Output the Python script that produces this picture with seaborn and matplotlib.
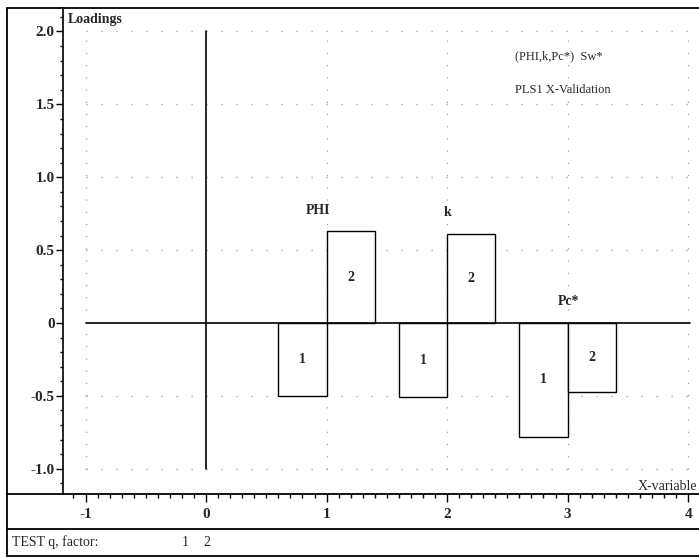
import matplotlib
matplotlib.use("Agg")
import matplotlib.pyplot as plt
from matplotlib.lines import Line2D
from matplotlib.ticker import MultipleLocator
import numpy as np
import pandas as pd
import seaborn as sns

# PLS1 loadings of the X-variables on the first two factors
variables = ["PHI", "k", "Pc*"]
var_pos = [1, 2, 3]
factor1 = [-0.50, -0.51, -0.78]
factor2 = [0.63, 0.61, -0.47]
factor_names = ["1", "2"]

x_ticks = [-1, 0, 1, 2, 3, 4]
x_ticklabels = ["-1", "0", "1", "2", "3", "4"]
y_ticks = [-1.0, -0.5, 0.0, 0.5, 1.0, 1.5, 2.0]
y_ticklabels = ["-1.0", "-0.5", "0", "0.5", "1.0", "1.5", "2.0"]

df = pd.DataFrame({
    "pos": var_pos * 2,
    "loading": factor1 + factor2,
    "factor": [factor_names[0]] * len(var_pos) + [factor_names[1]] * len(var_pos),
})

sns.set_theme(style="white")
plt.rcParams["font.family"] = ["Liberation Serif", "DejaVu Serif"]

W, H = 699, 558
fig = plt.figure(figsize=(W / 100, H / 100), dpi=100)
fig.patch.set_facecolor("white")


def fx(px):
    return px / W


def fy(py):
    return 1 - py / H


ax = fig.add_axes([fx(63), fy(494), fx(697) - fx(63), fy(8) - fy(494)])

sns.barplot(data=df, x="pos", y="loading", hue="factor", native_scale=True,
            palette=["white", "white"], saturation=1, edgecolor="black",
            linewidth=1.0, errorbar=None, legend=False, width=0.8, ax=ax)

ax.set_xlim(-1.187, 4.074)
ax.set_ylim(-1.173, 2.161)

# dotted reference grid
grid_col = "#9a9a9a"
for yv in [-1.0, -0.5, 0.5, 1.0, 1.5, 2.0]:
    ax.plot([-1, 4], [yv, yv], color=grid_col, lw=1.0,
            linestyle=(0, (0.8, 10)), zorder=0.5)
for xv in [-1, 1, 2, 3, 4]:
    ax.plot([xv, xv], [-1.0, 2.0], color=grid_col, lw=1.0,
            linestyle=(0, (0.8, 8)), zorder=0.5)

# zero line and x = 0 line
ax.plot([-1, 4.02], [0, 0], color="black", lw=1.2, zorder=3)
ax.plot([0, 0], [-1.0, 2.0], color="black", lw=1.2, zorder=3)

# factor number inside each bar
for _, row in df.iterrows():
    off = -0.2 if row["factor"] == factor_names[0] else 0.2
    ax.text(row["pos"] + off, row["loading"] / 2, row["factor"],
            ha="center", va="center", fontsize=10, fontweight="bold")

# variable names
label_pos = [(0.93, 0.77), (2.0, 0.76), (3.01, 0.15)]
for name, (lx, ly) in zip(variables, label_pos):
    ax.text(lx, ly, name, ha="center", va="center", fontsize=10,
            fontweight="bold")

ax.text(2.56, 1.83, "(PHI,k,Pc*)  Sw*", ha="left", va="center", fontsize=9)
ax.text(2.56, 1.60, "PLS1 X-Validation", ha="left", va="center", fontsize=9)

# axes styling
for side in ["top", "right", "bottom"]:
    ax.spines[side].set_visible(False)
ax.spines["left"].set_color("black")
ax.spines["left"].set_linewidth(1.2)

ax.set_xticks(x_ticks)
ax.set_xticklabels(x_ticklabels, fontsize=11, fontweight="bold")
ax.set_yticks(y_ticks)
ax.set_yticklabels(y_ticklabels, fontsize=11, fontweight="bold")
ax.xaxis.set_minor_locator(MultipleLocator(0.1))
ax.yaxis.set_minor_locator(MultipleLocator(0.1))
ax.tick_params(axis="x", which="major", direction="out", length=6, width=1,
               color="black", pad=4, bottom=True)
ax.tick_params(axis="x", which="minor", direction="out", length=3, width=1,
               color="black", bottom=True)
ax.tick_params(axis="y", which="major", direction="out", length=5, width=1,
               color="black", pad=1, left=True)
ax.tick_params(axis="y", which="minor", direction="out", length=2, width=1,
               color="black", left=True)
ax.set_xlabel("")
ax.set_ylabel("")
ax.set_facecolor("white")

# frame and separator lines
def hline(py, x0=7, x1=699, lw=1.3):
    fig.add_artist(Line2D([fx(x0), fx(x1)], [fy(py), fy(py)], color="black",
                          lw=lw, transform=fig.transFigure))


def vline(px, y0, y1, lw=1.3):
    fig.add_artist(Line2D([fx(px), fx(px)], [fy(y0), fy(y1)], color="black",
                          lw=lw, transform=fig.transFigure))


hline(8)
hline(494)
hline(529)
hline(556)
vline(7, 8, 556)

fig.text(fx(68), fy(19), "Loadings", ha="left", va="center", fontsize=10,
         fontweight="bold")
fig.text(fx(697), fy(486), "X-variable", ha="right", va="center", fontsize=10)
fig.text(fx(12), fy(542), "TEST q, factor:", ha="left", va="center",
         fontsize=10)
fig.text(fx(185), fy(542), factor_names[0], ha="center", va="center",
         fontsize=10)
fig.text(fx(207), fy(542), factor_names[1], ha="center", va="center",
         fontsize=10)

fig.savefig("out.png", dpi=100, facecolor="white")
